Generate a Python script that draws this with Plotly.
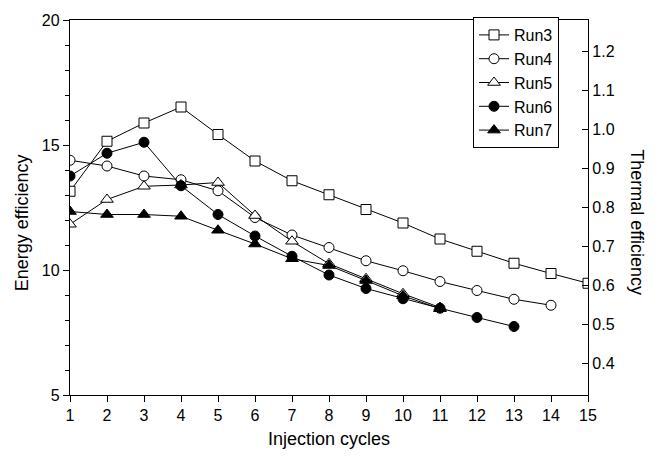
import plotly.graph_objects as go

cycles = list(range(1, 16))
run3 = [13.15, 15.15, 15.88, 16.52, 15.42, 14.36, 13.57, 13.01, 12.42, 11.88, 11.24, 10.75, 10.27, 9.86, 9.47]
run4 = [14.39, 14.16, 13.76, 13.61, 13.17, 12.10, 11.40, 10.90, 10.37, 9.97, 9.54, 9.18, 8.83, 8.59]
run5 = [11.83, 12.82, 13.35, 13.40, 13.50, 12.18, 11.15, 10.25, 9.65, 9.05, 8.50]
run6 = [13.76, 14.67, 15.11, 13.37, 12.22, 11.36, 10.55, 9.80, 9.26, 8.85, 8.47, 8.10, 7.74]
run7 = [12.34, 12.22, 12.22, 12.15, 11.59, 11.04, 10.45, 10.18, 9.58, 8.97, 8.45]

energy_ticks = [5, 10, 15, 20]
thermal_ticks = [0.4, 0.5, 0.6, 0.7, 0.8, 0.9, 1.0, 1.1, 1.2]

FONT = "Liberation Sans, Arial, sans-serif"

series = [
    ("Run3", run3, "square", "white"),
    ("Run4", run4, "circle", "white"),
    ("Run5", run5, "triangle-up", "white"),
    ("Run6", run6, "circle", "black"),
    ("Run7", run7, "triangle-up", "black"),
]

fig = go.Figure()
for name, vals, sym, fill in series:
    fig.add_trace(go.Scatter(
        x=cycles[:len(vals)], y=vals, name=name, mode="lines+markers",
        line=dict(color="black", width=1),
        marker=dict(symbol=sym, size=10 if "triangle" not in sym else 11, color=fill,
                    line=dict(color="black", width=1)),
        cliponaxis=True,
    ))

# invisible trace to activate the right axis
fig.add_trace(go.Scatter(x=[1], y=[0.8], yaxis="y2", mode="markers",
                         marker=dict(opacity=0), showlegend=False, hoverinfo="skip"))

fig.update_layout(
    width=660, height=458,
    margin=dict(l=70, r=72, t=15, b=63),
    paper_bgcolor="white", plot_bgcolor="white",
    font=dict(family=FONT, color="black", size=16),
    showlegend=True,
    legend=dict(x=0.778, y=1.008, xanchor="left", yanchor="top",
                bordercolor="black", borderwidth=1, bgcolor="white",
                font=dict(size=16, family=FONT), tracegroupgap=0,
                itemwidth=30),
    xaxis=dict(range=[1, 15], tickvals=cycles, showgrid=False, zeroline=False,
               showline=True, linecolor="black", linewidth=1.3, mirror=True,
               ticks="outside", ticklen=6, tickcolor="black",
               tickfont=dict(size=16)),
    yaxis=dict(range=[5, 20], tickvals=energy_ticks, showgrid=False, zeroline=False,
               showline=True, linecolor="black", linewidth=1.3,
               ticks="outside", ticklen=6, tickcolor="black",
               minor=dict(dtick=1, ticks="outside", ticklen=4, tickcolor="black"),
               tickfont=dict(size=16)),
    yaxis2=dict(range=[0.32, 1.28], overlaying="y", side="right",
                tickvals=thermal_ticks, tickformat=".1f", showgrid=False, zeroline=False,
                showline=True, linecolor="black", linewidth=1.3,
                ticks="inside", ticklen=6, tickcolor="black",
                tickfont=dict(size=16)),
    annotations=[
        dict(text="Energy efficiency", xref="paper", yref="paper", x=-0.093, y=0.46,
             textangle=-90, showarrow=False, font=dict(size=18, family=FONT),
             xanchor="center", yanchor="middle"),
        dict(text="Thermal efficiency", xref="paper", yref="paper", x=1.095, y=0.46,
             textangle=90, showarrow=False, font=dict(size=18, family=FONT),
             xanchor="center", yanchor="middle"),
        dict(text="Injection cycles", xref="paper", yref="paper", x=0.5, y=-0.118,
             showarrow=False, font=dict(size=18, family=FONT),
             xanchor="center", yanchor="middle"),
    ],
)

fig.write_html("out.html")
